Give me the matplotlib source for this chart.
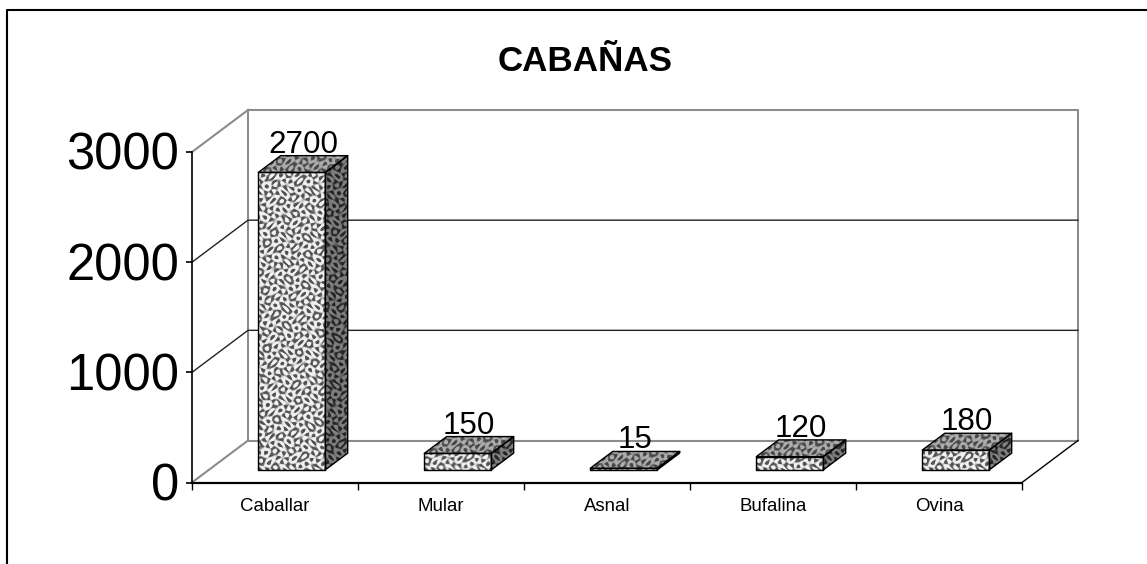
import numpy as np
import matplotlib
matplotlib.use("Agg")
import matplotlib.pyplot as plt
from matplotlib.lines import Line2D
from matplotlib.patches import Polygon
from matplotlib.transforms import ScaledTranslation

plt.rcParams['font.family'] = ['Liberation Sans', 'DejaVu Sans']

categories = ["Caballar", "Mular", "Asnal", "Bufalina", "Ovina"]
values = [2700, 150, 15, 120, 180]
y_ticks = [0, 1000, 2000, 3000]
title = "CABAÑAS"

W, H = 1147, 564
L, R, B, T = 192, 1022, 482.5, 152
fig = plt.figure(figsize=(W / 100, H / 100), dpi=100, facecolor='white')
ax = fig.add_axes([L / W, 1 - B / H, (R - L) / W, (B - T) / H])
ax.patch.set_alpha(0)
ax.set_xlim(0, len(categories))
ax.set_ylim(0, y_ticks[-1])
ax.set_autoscale_on(False)

px_x = (R - L) / len(categories)
px_y = (B - T) / y_ticks[-1]
DX = 56 / px_x      # depth of the floor, in data units
DY = 42 / px_y
BAR_W = 67 / px_x
D0, D1 = 0.3, 0.7   # depth span of the bars


def texture(w, h, lo, hi, seed=0.0):
    """Labyrinth-like stipple used on the bar faces (decoration, not data)."""
    yy, xx = np.mgrid[0:h, 0:w].astype(float)
    xw = xx + 2.2 * np.sin(yy / 3.7 + seed)
    yw = yy + 2.2 * np.sin(xx / 4.3 + 2 * seed)
    f = np.zeros_like(xx)
    for ang, ph in zip((0.2, 1.0, 1.75, 2.6), (0.0, 1.3, 2.9, 4.1)):
        f += np.cos(2 * np.pi / 5.8 * (xw * np.cos(ang) + yw * np.sin(ang)) + ph + seed)
    f = np.tanh(1.3 * f + 0.4)
    return lo + (hi - lo) * (f + 1) / 2


def face(pts, lo, hi, seed, z):
    pts = np.asarray(pts, float)
    x0, x1 = pts[:, 0].min(), pts[:, 0].max()
    y0, y1 = pts[:, 1].min(), pts[:, 1].max()
    w = max(int(np.ceil((x1 - x0) * px_x)), 2)
    h = max(int(np.ceil((y1 - y0) * px_y)), 2)
    im = ax.imshow(texture(w, h, lo, hi, seed), extent=(x0, x1, y0, y1), origin='lower',
                   aspect='auto', cmap='gray', vmin=0, vmax=1,
                   interpolation='bilinear', zorder=z, clip_on=True)
    patch = Polygon(pts, closed=True, fc='none', ec='black', lw=1.0, zorder=z + 0.1,
                    joinstyle='round', clip_on=False)
    ax.add_patch(patch)
    im.set_clip_path(patch)


# back wall, side wall, floor
wall = dict(color='#8c8c8c', lw=1.5, clip_on=False, zorder=1)
grid = dict(color='#222222', lw=1.0, clip_on=False, zorder=1)
nc = len(categories)
ymax = y_ticks[-1]
ax.plot([DX, nc + DX, nc + DX, DX, DX], [ymax + DY, ymax + DY, DY, DY, ymax + DY], **wall)
ax.plot([0, DX], [0, DY], **wall)
ax.plot([0, DX], [ymax, ymax + DY], **wall)
ax.plot([nc, nc + DX], [0, DY], color='black', lw=1.0, clip_on=False, zorder=1)
for t in y_ticks[1:-1]:
    ax.plot([0, DX, nc + DX], [t, t + DY, t + DY], **grid)

# bars
for i, v in enumerate(values):
    c = i + 0.5
    x0, x1 = c - BAR_W / 2 + D0 * DX, c + BAR_W / 2 + D0 * DX
    y0, y1 = D0 * DY, v + D0 * DY
    ox, oy = (D1 - D0) * DX, (D1 - D0) * DY
    z = 3 + i
    ax.text(c + (D0 + D1) / 2 * DX, y1 + oy + 3 / px_y, str(v),
            ha='center', va='baseline', fontsize=22.6, color='black', zorder=z - 0.5,
            clip_on=False)
    face([(x0, y0), (x1, y0), (x1, y1), (x0, y1)], 0.32, 0.95, 0.0, z)
    face([(x0, y1), (x1, y1), (x1 + ox, y1 + oy), (x0 + ox, y1 + oy)], 0.28, 0.68, 1.1, z)
    face([(x1, y0), (x1 + ox, y0 + oy), (x1 + ox, y1 + oy), (x1, y1)], 0.14, 0.50, 2.3, z)

# axes
for s in ('top', 'right'):
    ax.spines[s].set_visible(False)
ax.spines['left'].set_linewidth(1.2)
ax.spines['bottom'].set_linewidth(1.6)
ax.spines['left'].set_zorder(2)
ax.spines['bottom'].set_zorder(2)
ax.set_yticks(y_ticks)
ax.set_yticklabels([str(t) for t in y_ticks], fontsize=36.5)
ax.tick_params(axis='y', length=4, width=1.2, pad=5.3)
up = ScaledTranslation(0, 1.0 / 100, fig.dpi_scale_trans)
for lab in ax.get_yticklabels():
    lab.set_transform(lab.get_transform() + up)
ax.set_xticks(range(nc + 1))
ax.set_xticklabels([])
ax.set_xticks(np.arange(nc) + 0.5, minor=True)
ax.set_xticklabels(categories, minor=True, fontsize=13.4)
ax.tick_params(axis='x', which='major', length=5, width=1.0)
ax.tick_params(axis='x', which='minor', length=0, pad=11)

fig.text(585 / W, 1 - 61.5 / H, title, ha='center', va='center', fontsize=25.2,
         fontweight='bold', color='black')

# outer frame, cut off by the edges of the picture
fig.add_artist(Line2D([7.3 / W, 7.3 / W, 1], [0, 1 - 9.5 / H, 1 - 9.5 / H],
                      transform=fig.transFigure, color='black', lw=1.5))

fig.savefig('out.png', dpi=100)
